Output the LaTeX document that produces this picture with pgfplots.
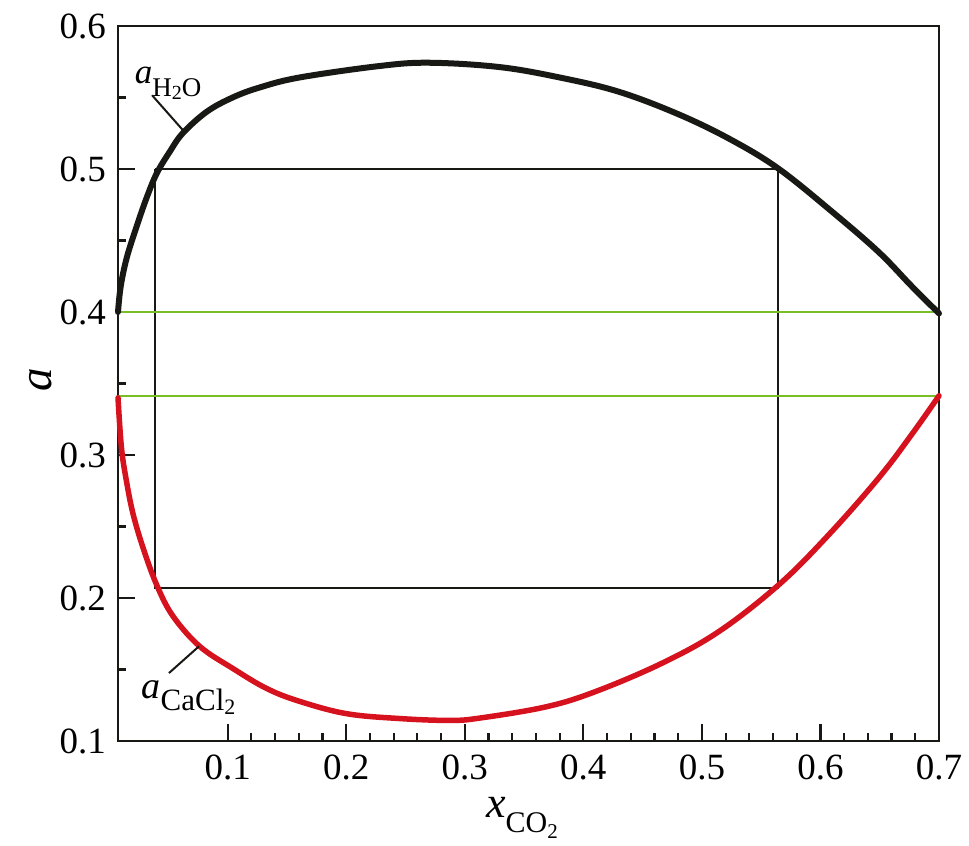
\documentclass[border=0pt]{standalone}
\usepackage{fontspec}
\setmainfont{Liberation Serif}
\usepackage{pgfplots}
\pgfplotsset{compat=1.18}
\definecolor{curvered}{RGB}{214,18,30}
\definecolor{limegreen}{RGB}{122,190,38}
\definecolor{inkblack}{RGB}{24,24,20}

\newcommand{\fs}[1]{\fontsize{#1bp}{#1bp}\selectfont}

\begin{document}
\begin{tikzpicture}
\begin{axis}[
    scale only axis,
    width=821bp, height=715bp,
    xmin=0.0075, xmax=0.7,
    ymin=0.1, ymax=0.6,
    xtick={0.1,0.2,0.3,0.4,0.5,0.6,0.7},
    ytick={0.1,0.2,0.3,0.4,0.5,0.6},
    minor x tick num=4,
    minor y tick num=1,
    xtick pos=bottom, ytick pos=left,
    tick align=inside,
    major tick length=17bp, minor tick length=8bp,
    every tick/.style={inkblack, line width=2.2bp},
    axis line style={inkblack, line width=2.6bp},
    /pgf/number format/.cd, fixed, fixed zerofill, precision=1, assume math mode=true,
    /pgfplots/.cd,
    tick label style={font=\fs{37}, inner sep=0pt},
    xticklabel shift=14bp,
    yticklabel shift=12bp,
    xlabel={\fs{44}\textit{x}\raisebox{-0.33em}{\fs{30}CO\raisebox{-0.2em}{\fs{21}2}}},
    ylabel={\fs{47}\textit{a}},
    every axis x label/.style={at={(axis description cs:0.492,-0.1077)}, anchor=base},
    every axis y label/.style={at={(axis description cs:-0.0938,0.505)}, rotate=90, anchor=center},
    clip=false,
]
% box between the curves
\addplot[inkblack, line width=2bp] coordinates {
    (0.0385,0.5) (0.5646,0.5) (0.5646,0.2071) (0.0385,0.2071) (0.0385,0.5)};
% horizontal tie lines
\addplot[limegreen, line width=2.2bp] coordinates {(0.0075,0.4) (0.7,0.4)};
\addplot[limegreen, line width=2.2bp] coordinates {(0.0075,0.3414) (0.7,0.3414)};
% a_CaCl2
\addplot[curvered, line width=5.5bp, line cap=round, smooth, tension=0.6] coordinates {
    (0.0075,0.340) (0.0104,0.3052) (0.0146,0.2819) (0.0202,0.2588)
    (0.0286,0.2352) (0.0399,0.2096) (0.0537,0.1875) (0.0764,0.1662)
    (0.1042,0.1508) (0.1329,0.1367) (0.1607,0.1277) (0.2003,0.1191)
    (0.245,0.1157) (0.287,0.1144) (0.3124,0.1160) (0.3686,0.1239)
    (0.4107,0.1347) (0.4666,0.1545) (0.5146,0.1767) (0.5652,0.2095)
    (0.6073,0.2445) (0.6494,0.2842) (0.6772,0.3146) (0.700,0.3414)};
% a_H2O
\addplot[inkblack, line width=6bp, line cap=round, smooth, tension=0.6] coordinates {
    (0.0075,0.400) (0.0098,0.418) (0.0149,0.438) (0.0233,0.460)
    (0.0317,0.480) (0.0402,0.497) (0.0511,0.512) (0.0621,0.525)
    (0.0823,0.540) (0.1042,0.550) (0.127,0.557) (0.1607,0.564)
    (0.228,0.572) (0.270,0.5743) (0.329,0.5713) (0.380,0.564)
    (0.430,0.554) (0.481,0.538) (0.5256,0.520) (0.565,0.500)
    (0.610,0.470) (0.649,0.442) (0.677,0.418) (0.700,0.399)};
% leader lines
\addplot[inkblack, line width=2bp] coordinates {(0.0362,0.5516) (0.0623,0.5271)};
\addplot[inkblack, line width=2bp] coordinates {(0.0505,0.1475) (0.0758,0.1662)};
\node[anchor=base west, inner sep=0pt] at (axis cs:0.0216,0.560)
    {\fs{35}\textit{a}\raisebox{-0.38em}{\fs{27}H\raisebox{-0.12em}{\fs{20}2}O}};
\node[anchor=base west, inner sep=0pt] at (axis cs:0.0273,0.130)
    {\fs{38}\textit{a}\raisebox{-0.32em}{\fs{31}CaCl\raisebox{-0.15em}{\fs{22}2}}};
\coordinate (sw) at (rel axis cs:0,0);
\coordinate (ne) at (rel axis cs:1,1);
\end{axis}
\pgfresetboundingbox
\path ([shift={(-118bp,-105bp)}]sw) rectangle ([shift={(30bp,26bp)}]ne);
\end{tikzpicture}
\end{document}
